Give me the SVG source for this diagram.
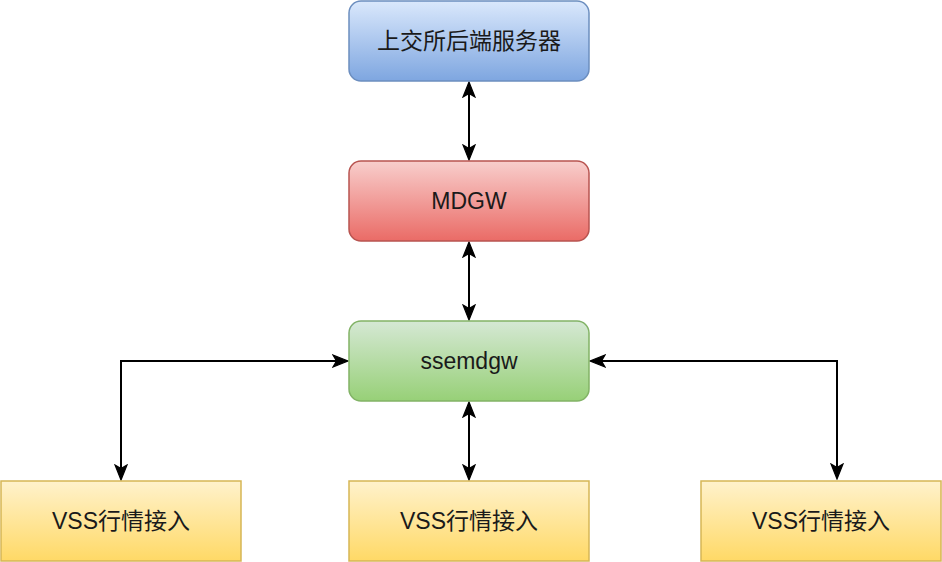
<svg xmlns="http://www.w3.org/2000/svg" width="942" height="562" viewBox="0 0 942 562">
<style>
.lbl{font-family:"Liberation Sans","Noto Sans CJK SC",Arial,sans-serif;font-size:23px;fill:#1a1a1a;text-anchor:middle;dominant-baseline:central}
.edge{fill:none;stroke:#000;stroke-width:2;marker-start:url(#ah);marker-end:url(#ah)}
</style>
<defs>
<linearGradient id="gBlue" x1="0" y1="0" x2="0" y2="1"><stop offset="0" stop-color="#dae8fc"/><stop offset="1" stop-color="#7ea6e0"/></linearGradient>
<linearGradient id="gRed" x1="0" y1="0" x2="0" y2="1"><stop offset="0" stop-color="#f8cecc"/><stop offset="1" stop-color="#ea6b66"/></linearGradient>
<linearGradient id="gGreen" x1="0" y1="0" x2="0" y2="1"><stop offset="0" stop-color="#d5e8d4"/><stop offset="1" stop-color="#97d077"/></linearGradient>
<linearGradient id="gYellow" x1="0" y1="0" x2="0" y2="1"><stop offset="0" stop-color="#fff2cc"/><stop offset="1" stop-color="#ffd966"/></linearGradient>
<marker id="ah" viewBox="-1 -1 17 14" refX="14" refY="6" markerWidth="17" markerHeight="14" markerUnits="userSpaceOnUse" orient="auto-start-reverse">
<path d="M0,0 L15,6 L0,12 L3.5,6 z" fill="#000" stroke="#000" stroke-width="1.2" stroke-linejoin="miter"/>
</marker>
</defs>
<g id="edges">
<path class="edge" d="M469,83 L469,159"/>
<path class="edge" d="M469,243 L469,319"/>
<path class="edge" d="M469,403 L469,479"/>
<path class="edge" d="M347,361 L121,361 L121,479"/>
<path class="edge" d="M591,361 L837,361 L837,478"/>
</g>
<g id="sse"><rect x="349" y="1" width="240" height="80" rx="12" fill="url(#gBlue)" stroke="#6c8ebf" stroke-width="1.5"/><text class="lbl" x="469" y="41">上交所后端服务器</text></g>
<g id="mdgw"><rect x="349" y="161" width="240" height="80" rx="12" fill="url(#gRed)" stroke="#b85450" stroke-width="1.5"/><text class="lbl" x="469" y="201">MDGW</text></g>
<g id="ssemdgw"><rect x="349" y="321" width="240" height="80" rx="12" fill="url(#gGreen)" stroke="#82b366" stroke-width="1.5"/><text class="lbl" x="469" y="361">ssemdgw</text></g>
<g id="vss1"><rect x="1" y="481" width="240" height="80" fill="url(#gYellow)" stroke="#d6b656" stroke-width="1.5"/><text class="lbl" x="121" y="521">VSS行情接入</text></g>
<g id="vss2"><rect x="349" y="481" width="240" height="80" fill="url(#gYellow)" stroke="#d6b656" stroke-width="1.5"/><text class="lbl" x="469" y="521">VSS行情接入</text></g>
<g id="vss3"><rect x="701" y="481" width="240" height="80" fill="url(#gYellow)" stroke="#d6b656" stroke-width="1.5"/><text class="lbl" x="821" y="521">VSS行情接入</text></g>
</svg>
